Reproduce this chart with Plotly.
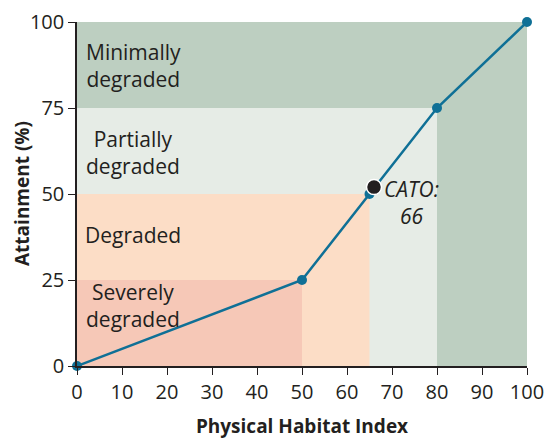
import plotly.graph_objects as go

# Physical Habitat Index vs. attainment curve
phi = [0, 50, 65, 80, 100]
attainment = [0, 25, 50, 75, 100]

# CATO marker
cato_x = [66]
cato_y = [52]
cato_label = "CATO:<br>66"

# Condition bands
band_names = ["Minimally<br>degraded", "Partially<br>degraded", "Degraded", "Severely<br>degraded"]
band_x1 = [100, 80, 65, 50]
band_y1 = [100, 75, 50, 25]
band_colors = ["#bdcfc1", "#e6ece6", "#fcddc6", "#f6c8b7"]
label_y = [87.5, 62, 38, 17.5]

x_ticks = list(range(0, 101, 10))
y_ticks = [0, 25, 50, 75, 100]

FONT = "Open Sans"
INK = "#231f20"
SIZE = 20

fig = go.Figure()

shapes = []
# Minimally degraded: top band plus right strip
shapes.append(dict(type="rect", xref="x", yref="y", x0=0, x1=100, y0=75, y1=100,
                   fillcolor=band_colors[0], line_width=0, layer="below"))
shapes.append(dict(type="rect", xref="x", yref="y", x0=80, x1=100, y0=0, y1=75,
                   fillcolor=band_colors[0], line_width=0, layer="below"))
for x1, y1, c in zip(band_x1[1:], band_y1[1:], band_colors[1:]):
    shapes.append(dict(type="rect", xref="x", yref="y", x0=0, x1=x1, y0=0, y1=y1,
                       fillcolor=c, line_width=0, layer="below"))

fig.add_trace(go.Scatter(
    x=phi, y=attainment, mode="lines+markers",
    line=dict(color="#0f7096", width=2.5),
    marker=dict(color="#0f7096", size=10),
    cliponaxis=False, showlegend=False, hoverinfo="skip"))

fig.add_trace(go.Scatter(
    x=cato_x, y=cato_y, mode="markers",
    marker=dict(color=INK, size=15, line=dict(color="white", width=1.5)),
    cliponaxis=False, showlegend=False, hoverinfo="skip"))

annotations = []
for name, ly in zip(band_names, label_y):
    annotations.append(dict(x=12.5, y=ly, xref="x", yref="y", text=name, showarrow=False,
                            font=dict(family=FONT, size=SIZE + 1, color=INK),
                            align="center", xanchor="center", yanchor="middle"))
# CATO label, italic, beside the marker
annotations.append(dict(x=cato_x[0], y=cato_y[0], xref="x", yref="y",
                        text="<i>" + cato_label + "</i>", showarrow=False,
                        xshift=8, yshift=14, align="center",
                        font=dict(family=FONT, size=SIZE + 1, color=INK),
                        xanchor="left", yanchor="top"))
# Vertical y-axis title
annotations.append(dict(x=0, y=0.5, xref="paper", yref="paper", xshift=-55,
                        text="<b>Attainment (%)</b>", textangle=-90, showarrow=False,
                        font=dict(family=FONT, size=19, color=INK),
                        xanchor="center", yanchor="middle"))

fig.update_layout(
    width=545, height=443,
    margin=dict(l=77, r=18, t=22, b=77, autoexpand=False),
    paper_bgcolor="white", plot_bgcolor="white",
    shapes=shapes, annotations=annotations,
    font=dict(family=FONT, size=SIZE, color=INK),
)
axis_common = dict(range=[0, 100], showgrid=False, zeroline=False, automargin=False,
                   showline=True, linecolor=INK, linewidth=1.5,
                   ticks="outside", ticklen=7, tickcolor=INK, tickwidth=1.2,
                   ticklabeloverflow="allow",
                   tickfont=dict(family=FONT, size=SIZE, color=INK))
fig.update_xaxes(tickvals=x_ticks, **axis_common,
                 title=dict(text="<b>Physical Habitat Index</b>", standoff=16,
                            font=dict(family=FONT, size=19, color=INK)))
fig.update_yaxes(tickvals=y_ticks, **axis_common)

fig.write_html("out.html")
